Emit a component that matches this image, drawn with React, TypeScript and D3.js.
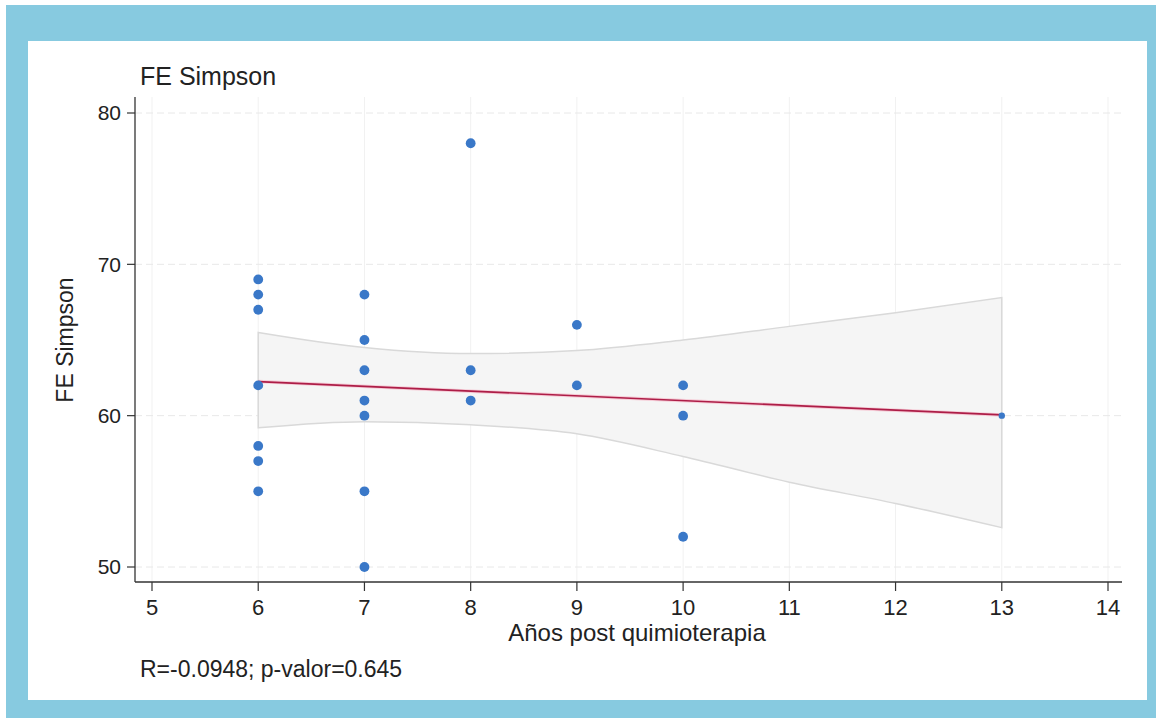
import React from 'react';
import * as d3 from 'd3';

// scatter points (años, FE Simpson)
const pointsX = [6, 6, 6, 6, 6, 6, 6, 7, 7, 7, 7, 7, 7, 7, 8, 8, 8, 9, 9, 10, 10, 10, 13];
const pointsY = [69, 68, 67, 62, 58, 57, 55, 68, 65, 63, 61, 60, 55, 50, 78, 63, 61, 66, 62, 62, 60, 52, 60];

// fitted line + confidence band
const fitX = [6, 13];
const fitY = [62.25, 60.05];
const bandX = [6, 7, 8, 9, 10, 11, 12, 13];
const bandUpper = [65.5, 64.5, 64.1, 64.3, 65.0, 65.9, 66.8, 67.8];
const bandLower = [59.2, 59.6, 59.4, 58.8, 57.3, 55.6, 54.2, 52.6];

const xTicks = [5, 6, 7, 8, 9, 10, 11, 12, 13, 14];
const yTicks = [50, 60, 70, 80];

const title = 'FE Simpson';
const xLabel = 'Años post quimioterapia';
const yLabel = 'FE Simpson';
const note = 'R=-0.0948; p-valor=0.645';

const W = 1156;
const H = 718;
const font = '"Liberation Sans", Arial, Helvetica, sans-serif';

export default function App() {
  const plot = { left: 135, right: 1122, top: 97, bottom: 582 };

  const x = d3.scaleLinear().domain([5, 14]).range([152, 1108]);
  const y = d3.scaleLinear().domain([50, 80]).range([567, 113]);

  const band = d3
    .area<number>()
    .x((d) => x(d))
    .y0((_, i) => y(bandLower[i]))
    .y1((_, i) => y(bandUpper[i]))
    .curve(d3.curveMonotoneX);

  const fitLine = d3
    .line<number>()
    .x((d) => x(d))
    .y((_, i) => y(fitY[i]));

  return (
    <svg
      width={W}
      height={H}
      style={{ position: 'absolute', left: 0, top: 0 }}
      fontFamily={font}
    >
      {/* frame */}
      <rect x={0} y={0} width={W} height={H} fill="#ffffff" />
      <rect x={6} y={5} width={W - 6} height={H - 5} fill="#87cae0" />
      <rect x={28} y={41} width={1119} height={659} fill="#ffffff" />

      {/* grid */}
      {xTicks.map((t) => (
        <line
          key={'gx' + t}
          x1={x(t)}
          x2={x(t)}
          y1={plot.top}
          y2={plot.bottom}
          stroke="#f1f1f1"
          strokeWidth={1}
        />
      ))}
      {yTicks.map((t) => (
        <line
          key={'gy' + t}
          x1={plot.left}
          x2={plot.right}
          y1={y(t)}
          y2={y(t)}
          stroke="#e8e8e8"
          strokeWidth={1}
          strokeDasharray="7,4"
        />
      ))}

      {/* confidence band */}
      <path
        d={band(bandX) || ''}
        fill="#f5f5f5"
        stroke="#d9d9d9"
        strokeWidth={1.5}
      />

      {/* fitted line */}
      <path
        d={fitLine(fitX) || ''}
        fill="none"
        stroke="#f5a9be"
        strokeWidth={3.5}
        opacity={0.55}
      />
      <path d={fitLine(fitX) || ''} fill="none" stroke="#ad1d47" strokeWidth={1.6} />

      {/* points */}
      {pointsX.map((px, i) => (
        <circle
          key={'p' + i}
          cx={x(px)}
          cy={y(pointsY[i])}
          r={px === 13 ? 3.2 : 4.9}
          fill="#3a78c8"
        />
      ))}

      {/* axes */}
      <line x1={plot.left} x2={plot.left} y1={plot.top} y2={plot.bottom} stroke="#333" strokeWidth={1.3} />
      <line x1={plot.left} x2={plot.right} y1={plot.bottom} y2={plot.bottom} stroke="#333" strokeWidth={1.3} />

      {yTicks.map((t) => (
        <g key={'ty' + t}>
          <line x1={plot.left - 8} x2={plot.left} y1={y(t)} y2={y(t)} stroke="#333" strokeWidth={1.2} />
          <text
            x={plot.left - 14}
            y={y(t)}
            dy="0.35em"
            textAnchor="end"
            fontSize={21}
            fill="#222"
          >
            {t}
          </text>
        </g>
      ))}

      {xTicks.map((t) => (
        <g key={'tx' + t}>
          <line x1={x(t)} x2={x(t)} y1={plot.bottom} y2={plot.bottom + 9} stroke="#333" strokeWidth={1.2} />
          <text x={x(t)} y={615} textAnchor="middle" fontSize={22} fill="#222">
            {t}
          </text>
        </g>
      ))}

      {/* labels */}
      <text x={140} y={85} fontSize={25} fill="#222">
        {title}
      </text>
      <text
        transform="translate(73,340) rotate(-90)"
        textAnchor="middle"
        fontSize={23}
        fill="#222"
      >
        {yLabel}
      </text>
      <text x={637} y={641} textAnchor="middle" fontSize={24} fill="#222">
        {xLabel}
      </text>
      <text x={140} y={677} fontSize={23} fill="#222">
        {note}
      </text>
    </svg>
  );
}
